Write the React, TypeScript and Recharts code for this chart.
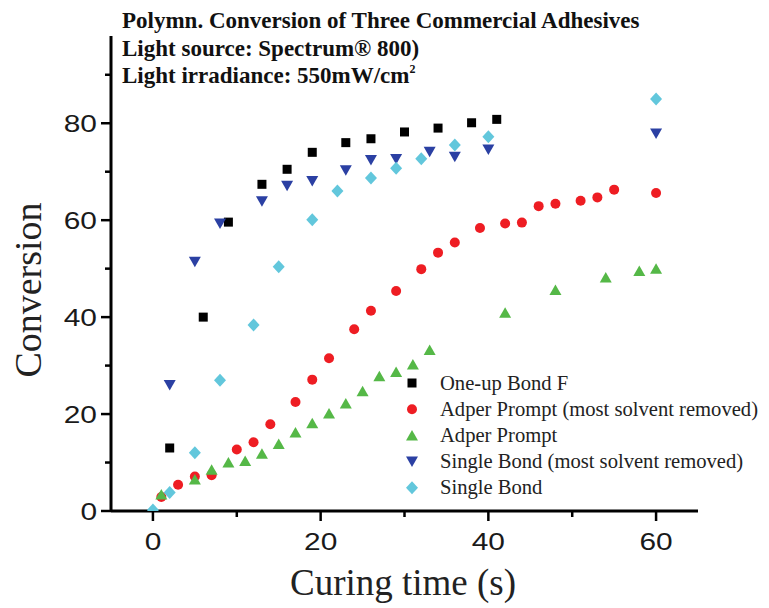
import React from 'react';
import { ScatterChart, Scatter, XAxis, YAxis } from 'recharts';

// ---- data ----
const oneUpX = [2, 6, 9, 13, 16, 19, 23, 26, 30, 34, 38, 41];
const oneUpY = [13, 40, 59.6, 67.4, 70.5, 74, 76, 76.8, 78.2, 79, 80.1, 80.8];

const adperRemovedX = [1, 3, 5, 7, 10, 12, 14, 17, 19, 21, 24, 26, 29, 32, 34, 36, 39, 42, 44, 46, 48, 51, 53, 55, 60];
const adperRemovedY = [2.9, 5.4, 7.1, 7.4, 12.7, 14.2, 17.9, 22.5, 27.1, 31.5, 37.5, 41.3, 45.4, 49.9, 53.3, 55.4, 58.4, 59.3, 59.5, 62.9, 63.4, 64, 64.7, 66.3, 65.6];

const adperX = [1, 5, 7, 9, 11, 13, 15, 17, 19, 21, 23, 25, 27, 29, 31, 33, 42, 48, 54, 58, 60];
const adperY = [3.4, 6.5, 8.5, 10, 10.3, 11.8, 13.8, 16.2, 18.1, 20.1, 22.2, 24.7, 27.8, 28.7, 30.2, 33.2, 40.9, 45.6, 48.2, 49.5, 50];

const singleRemovedX = [2, 5, 8, 13, 16, 19, 23, 26, 29, 33, 36, 40, 60];
const singleRemovedY = [26, 51.4, 59.3, 63.9, 67.1, 68.1, 70.3, 72.4, 72.6, 74.1, 73.1, 74.6, 77.9];

const singleX = [0, 2, 5, 8, 12, 15, 19, 22, 26, 29, 32, 36, 40, 60];
const singleY = [0.2, 3.8, 12, 27, 38.4, 50.4, 60.1, 66, 68.7, 70.7, 72.7, 75.5, 77.2, 85];

const seriesNames = [
  'One-up Bond F',
  'Adper Prompt (most solvent removed)',
  'Adper Prompt',
  'Single Bond (most solvent removed)',
  'Single Bond',
];

const xTicks = [0, 10, 20, 30, 40, 50, 60];
const xLabeled = [0, 20, 40, 60];
const yTicks = [0, 10, 20, 30, 40, 50, 60, 70, 80, 90];
const yLabeled = [0, 20, 40, 60, 80];

const titleLines = [
  'Polymn. Conversion of Three Commercial Adhesives',
  'Light source: Spectrum\u00AE 800)',
  'Light irradiance: 550mW/cm',
];

const toPoints = (xs: number[], ys: number[]) => xs.map((x, i) => ({ x, y: ys[i] }));

const COLORS = ['#000000', '#ee1d23', '#55b847', '#2b40a3', '#62c7dc'];

const SERIF = '"Liberation Serif", "Times New Roman", serif';
const SANS = '"Liberation Sans", Arial, sans-serif';

// ---- marker shapes ----
const drawMarker = (kind: number, cx: number, cy: number, key?: string) => {
  const c = COLORS[kind];
  switch (kind) {
    case 0:
      return <rect key={key} x={cx - 4.5} y={cy - 4.5} width={9} height={9} fill={c} />;
    case 1:
      return <circle key={key} cx={cx} cy={cy} r={5} fill={c} />;
    case 2:
      return <path key={key} d={`M${cx},${cy - 5.5} L${cx + 6},${cy + 5} L${cx - 6},${cy + 5} Z`} fill={c} />;
    case 3:
      return <path key={key} d={`M${cx - 6},${cy - 5} L${cx + 6},${cy - 5} L${cx},${cy + 5.5} Z`} fill={c} />;
    default:
      return <path key={key} d={`M${cx},${cy - 6.5} L${cx + 6},${cy} L${cx},${cy + 6.5} L${cx - 6},${cy} Z`} fill={c} />;
  }
};

const makeShape = (kind: number) => (props: any) => drawMarker(kind, props.cx, props.cy);

// ---- ticks ----
const XTick = (props: any) => {
  const { x, y, payload } = props;
  const v = payload.value;
  const major = xLabeled.includes(v);
  return (
    <g>
      <line x1={x} x2={x} y1={y} y2={y + (major ? 10 : 6)} stroke="#000" strokeWidth={2.5} />
      {major && (
        <text
          transform={`translate(${x},${y + 39}) scale(1.3,1)`}
          textAnchor="middle"
          fontFamily={SANS}
          fontSize={23}
          fill="#1a1a1a"
        >
          {v}
        </text>
      )}
    </g>
  );
};

const YTick = (props: any) => {
  const { x, y, payload } = props;
  const v = payload.value;
  const major = yLabeled.includes(v);
  return (
    <g>
      <line x1={x} x2={x - (major ? 10 : 6)} y1={y} y2={y} stroke="#000" strokeWidth={2.5} />
      {major && (
        <text
          transform={`translate(${x - 14},${y + 8.5}) scale(1.3,1)`}
          textAnchor="end"
          fontFamily={SANS}
          fontSize={23}
          fill="#1a1a1a"
        >
          {v}
        </text>
      )}
    </g>
  );
};

const W = 761;
const H = 600;

export default function App() {
  const all = [
    toPoints(oneUpX, oneUpY),
    toPoints(adperRemovedX, adperRemovedY),
    toPoints(adperX, adperY),
    toPoints(singleRemovedX, singleRemovedY),
    toPoints(singleX, singleY),
  ];
  const legendX = 404;
  const legendY0 = 375;
  const legendStep = 26.2;
  return (
    <div style={{ position: 'relative', width: W, height: H, background: '#fff' }}>
      <ScatterChart width={W} height={H} margin={{ top: 28, right: 71, bottom: 37, left: 43 }}>
        <XAxis
          type="number"
          dataKey="x"
          domain={[-5, 65]}
          ticks={xTicks}
          interval={0}
          allowDataOverflow
          height={60}
          tickSize={0}
          tickMargin={0}
          tickLine={false}
          axisLine={{ stroke: '#000', strokeWidth: 3 }}
          tick={<XTick />}
        />
        <YAxis
          type="number"
          dataKey="y"
          domain={[0, 98]}
          ticks={yTicks}
          interval={0}
          allowDataOverflow
          width={60}
          tickSize={0}
          tickMargin={0}
          tickLine={false}
          axisLine={{ stroke: '#000', strokeWidth: 3 }}
          tick={<YTick />}
        />
        {all.map((d, i) => (
          <Scatter
            key={seriesNames[i]}
            name={seriesNames[i]}
            data={d}
            fill={COLORS[i]}
            shape={makeShape(i)}
            isAnimationActive={false}
          />
        ))}
      </ScatterChart>
      <svg
        width={W}
        height={H}
        style={{ position: 'absolute', left: 0, top: 0, pointerEvents: 'none' }}
      >
        <g fontFamily={SERIF} fontWeight="bold" fontSize={23} fill="#111">
          <text x={114} y={20}>{titleLines[0]}</text>
          <text x={114} y={47.5}>{titleLines[1]}</text>
          <text x={114} y={75}>
            {titleLines[2]}
            <tspan fontSize={12} dy={-10}>2</tspan>
          </text>
        </g>
        <text
          x={395}
          y={587}
          textAnchor="middle"
          fontFamily={SERIF}
          fontSize={37}
          fill="#222"
        >
          Curing time (s)
        </text>
        <text
          transform="translate(33,282) rotate(-90)"
          textAnchor="middle"
          fontFamily={SERIF}
          fontSize={38}
          fill="#222"
        >
          Conversion
        </text>
        {seriesNames.map((n, i) => {
          const cy = legendY0 + i * legendStep;
          return (
            <g key={n}>
              {drawMarker(i, legendX, cy)}
              <text x={432} y={cy + 6.5} fontFamily={SERIF} fontSize={20.6} fill="#222">
                {n}
              </text>
            </g>
          );
        })}
      </svg>
    </div>
  );
}
